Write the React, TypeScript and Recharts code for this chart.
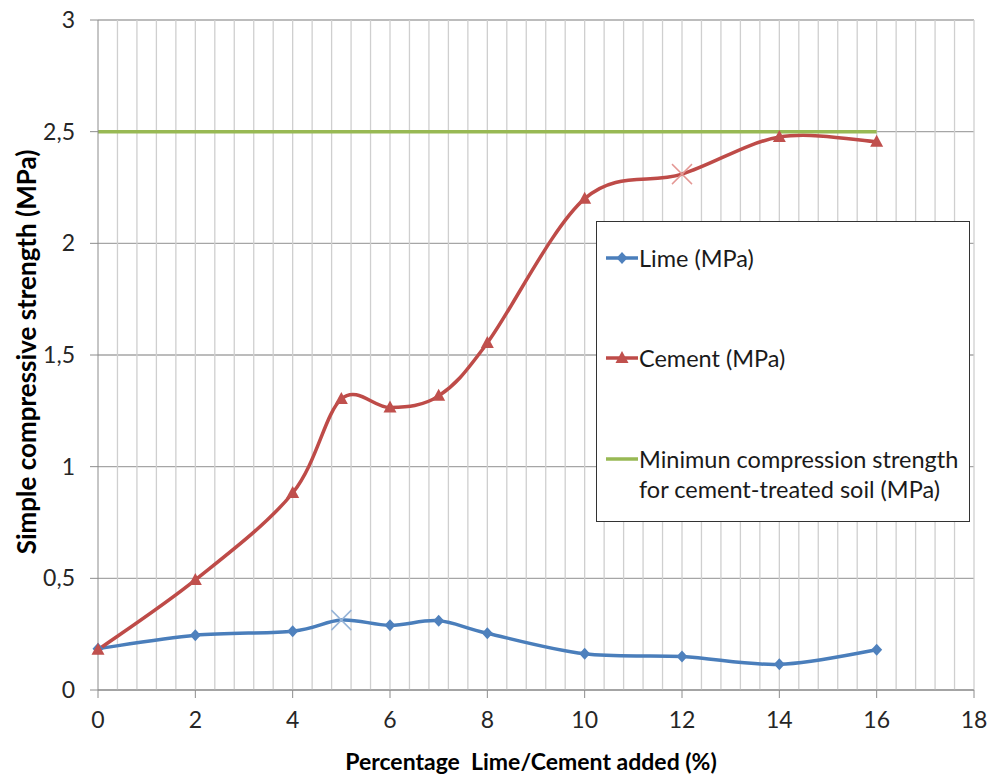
import React from "react";
import { LineChart, Line, XAxis, YAxis, CartesianGrid, ReferenceLine } from "recharts";

const percentAdded = [0, 2, 4, 5, 6, 7, 8, 10, 12, 14, 16];
const limeMPa = [0.185, 0.245, 0.263, 0.313, 0.29, 0.31, 0.254, 0.162, 0.15, 0.115, 0.18];
const cementMPa = [0.18, 0.493, 0.882, 1.303, 1.265, 1.317, 1.554, 2.2, 2.31, 2.476, 2.455];
const minStrength = [2.5, 2.5, 2.5, 2.5, 2.5, 2.5, 2.5, 2.5, 2.5, 2.5, 2.5];

const xTicks = [0, 2, 4, 6, 8, 10, 12, 14, 16, 18];
const yTicks = [0, 0.5, 1, 1.5, 2, 2.5, 3];
// minor vertical grid every 0.4
const gridX = Array.from({ length: 45 }, (_, i) => +((i + 1) * 0.4).toFixed(1));

// points drawn with an "x" instead of the series marker
const limeCrossAt = 5;
const cementCrossAt = 12;

const data = percentAdded.map((x, i) => ({
  x,
  lime: limeMPa[i],
  cement: cementMPa[i],
  min: minStrength[i],
}));

const FONT = "Lato, 'Open Sans', sans-serif";
const BLUE = "#4A7EBB";
const RED = "#BE4B48";
const GREEN = "#98B954";

// excel-like smoothed line (catmull-rom as bezier)
function excelSmooth(context: any) {
  let pts: number[][] = [];
  return {
    areaStart() {},
    areaEnd() {},
    lineStart() {
      pts = [];
    },
    point(x: number, y: number) {
      pts.push([+x, +y]);
    },
    lineEnd() {
      const n = pts.length;
      if (!n) return;
      context.moveTo(pts[0][0], pts[0][1]);
      for (let i = 0; i < n - 1; i++) {
        const p0 = pts[Math.max(i - 1, 0)];
        const p1 = pts[i];
        const p2 = pts[i + 1];
        const p3 = pts[Math.min(i + 2, n - 1)];
        context.bezierCurveTo(
          p1[0] + (p2[0] - p0[0]) / 6,
          p1[1] + (p2[1] - p0[1]) / 6,
          p2[0] - (p3[0] - p1[0]) / 6,
          p2[1] - (p3[1] - p1[1]) / 6,
          p2[0],
          p2[1]
        );
      }
    },
  };
}

const Cross = ({ cx, cy, color }: any) => (
  <g>
    <line x1={cx - 10} y1={cy - 10} x2={cx + 10} y2={cy + 10} stroke={color} strokeWidth={1.5} />
    <line x1={cx - 10} y1={cy + 10} x2={cx + 10} y2={cy - 10} stroke={color} strokeWidth={1.5} />
  </g>
);

const Diamond = ({ cx, cy }: any) => (
  <path d={`M${cx},${cy - 6}L${cx + 5.5},${cy}L${cx},${cy + 6}L${cx - 5.5},${cy}Z`} fill="#4F81BD" />
);

const Triangle = ({ cx, cy }: any) => (
  <path d={`M${cx},${cy - 7}L${cx + 6.5},${cy + 5}L${cx - 6.5},${cy + 5}Z`} fill="#C0504D" />
);

const limeDot = (props: any) => {
  const { cx, cy, index, payload } = props;
  if (payload.x === limeCrossAt) return <Cross key={`l${index}`} cx={cx} cy={cy} color="#95B3D7" />;
  return <Diamond key={`l${index}`} cx={cx} cy={cy} />;
};

const cementDot = (props: any) => {
  const { cx, cy, index, payload } = props;
  if (payload.x === cementCrossAt) return <Cross key={`c${index}`} cx={cx} cy={cy} color="#E49794" />;
  return <Triangle key={`c${index}`} cx={cx} cy={cy} />;
};

const fmt = (v: number) => String(v).replace(".", ",");

export default function App() {
  return (
    <div style={{ position: "relative", width: 993, height: 774, background: "#fff", fontFamily: FONT }}>
      <style>{`body{margin:0}`}</style>
      <LineChart width={993} height={774} data={data} margin={{ top: 20, right: 19, left: 0, bottom: 0 }}>
        <CartesianGrid vertical={false} stroke="#A6A6A6" strokeWidth={1.3} />
        {gridX.map((v) => (
          <ReferenceLine key={v} x={v} stroke="#CFCFCF" strokeWidth={1.3} />
        ))}
        <XAxis
          type="number"
          dataKey="x"
          domain={[0, 18]}
          ticks={xTicks}
          height={84}
          tickSize={8}
          tickMargin={14}
          stroke="#8C8C8C"
          tick={{ fontSize: 23, fill: "#262626", fontFamily: FONT }}
        />
        <YAxis
          type="number"
          domain={[0, 3]}
          ticks={yTicks}
          width={98}
          tickSize={8}
          tickMargin={15}
          stroke="#8C8C8C"
          tickFormatter={fmt}
          tick={{ fontSize: 23, fill: "#262626", fontFamily: FONT }}
        />
        <Line
          dataKey="lime"
          type={excelSmooth as any}
          stroke={BLUE}
          strokeWidth={3.5}
          dot={limeDot}
          activeDot={false}
          isAnimationActive={false}
        />
        <Line
          dataKey="cement"
          type={excelSmooth as any}
          stroke={RED}
          strokeWidth={3.5}
          dot={cementDot}
          activeDot={false}
          isAnimationActive={false}
        />
        <Line
          dataKey="min"
          type="linear"
          stroke={GREEN}
          strokeWidth={3.5}
          dot={false}
          activeDot={false}
          isAnimationActive={false}
        />
      </LineChart>

      {/* axis titles */}
      <div
        style={{
          position: "absolute",
          left: 26,
          top: 352,
          transform: "translate(-50%, -50%) rotate(-90deg)",
          whiteSpace: "nowrap",
          fontWeight: 700,
          fontSize: 26,
          color: "#000",
        }}
      >
        Simple compressive strength (MPa)
      </div>
      <div
        style={{
          position: "absolute",
          left: 531,
          top: 761,
          transform: "translate(-50%, -50%)",
          whiteSpace: "pre",
          fontWeight: 700,
          fontSize: 23,
          color: "#000",
        }}
      >
        {"Percentage  Lime/Cement added (%)"}
      </div>

      {/* legend */}
      <div
        style={{
          position: "absolute",
          left: 596,
          top: 221,
          width: 374,
          height: 301,
          border: "1.5px solid #333",
          background: "#fff",
          fontSize: 23.5,
          color: "#1a1a1a",
          boxSizing: "border-box",
        }}
      >
        {[
          { y: 36, label: "Lime (MPa)", kind: "lime" },
          { y: 136, label: "Cement (MPa)", kind: "cement" },
          { y: 237, label: "Minimun compression strength", kind: "min" },
        ].map((it) => (
          <div key={it.kind} style={{ position: "absolute", left: 8, top: it.y - 15, display: "flex", alignItems: "flex-start" }}>
            <svg width={34} height={30} style={{ flex: "none" }}>
              <line
                x1={1}
                y1={15}
                x2={33}
                y2={15}
                stroke={it.kind === "lime" ? BLUE : it.kind === "cement" ? RED : GREEN}
                strokeWidth={3.5}
              />
              {it.kind === "lime" && <Diamond cx={17} cy={15} />}
              {it.kind === "cement" && <Triangle cx={17} cy={15} />}
            </svg>
            <div style={{ lineHeight: "30px", whiteSpace: "nowrap" }}>
              {it.label}
              {it.kind === "min" && (
                <>
                  <br />
                  for cement-treated soil (MPa)
                </>
              )}
            </div>
          </div>
        ))}
      </div>
    </div>
  );
}
